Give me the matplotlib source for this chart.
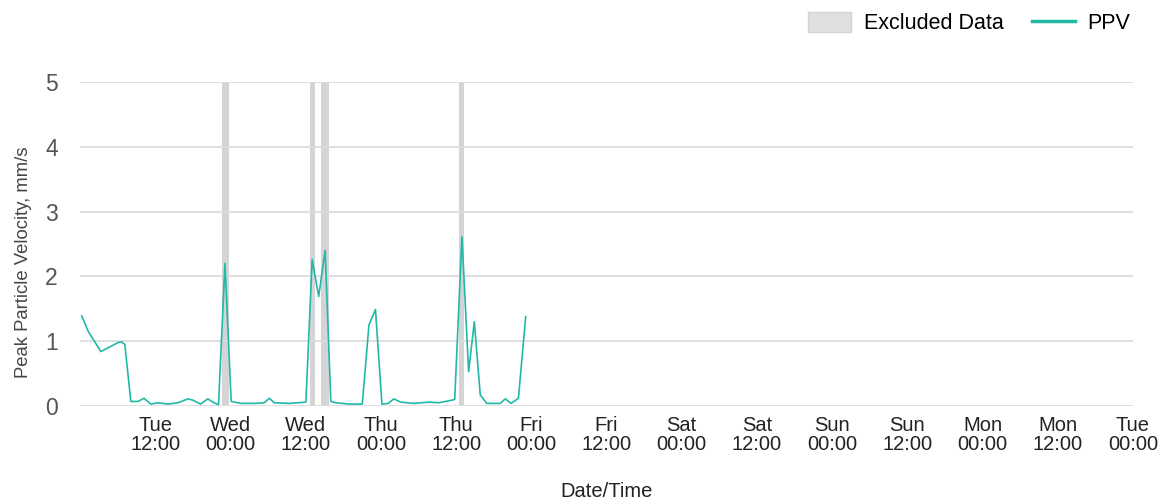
import numpy as np
import pandas as pd
import matplotlib
matplotlib.use("Agg")
import matplotlib.pyplot as plt
import matplotlib.dates as mdates
from matplotlib.patches import Patch
from matplotlib.lines import Line2D

plt.rcParams['font.family'] = ['Liberation Sans', 'DejaVu Sans']

start = pd.Timestamp("2024-01-02 00:00")  # a Tuesday

# PPV readings: hours after start, value in mm/s
ppv_hours = [0.27, 1.32, 3.34, 6.09, 6.63, 7.15, 8.11, 9.27, 10.22, 11.29,
             12.45, 14.04, 15.63, 17.22, 18.01, 19.24, 20.40, 21.19, 22.10, 23.13,
             24.12, 25.71, 27.8, 29.41, 30.21, 31.0, 33.4, 36.04, 37.04, 38.08,
             39.11, 40.02, 40.8, 42.9, 45.04, 46.1, 47.14, 48.17, 49.17, 50.08,
             51.14, 53.26, 55.64, 57.23, 58.82, 59.78, 60.94, 62.0, 62.91, 63.86,
             64.91, 67.04, 67.84, 68.79, 69.95, 71.11]
ppv_values = [1.39, 1.15, 0.84, 0.98, 0.99, 0.95, 0.07, 0.07, 0.12, 0.03,
              0.05, 0.03, 0.05, 0.11, 0.09, 0.03, 0.11, 0.06, 0.02, 2.20,
              0.07, 0.04, 0.04, 0.05, 0.12, 0.05, 0.04, 0.06, 2.26, 1.69,
              2.40, 0.07, 0.05, 0.03, 0.03, 1.25, 1.49, 0.03, 0.04, 0.11,
              0.06, 0.04, 0.06, 0.05, 0.08, 0.10, 2.61, 0.53, 1.30, 0.17,
              0.04, 0.04, 0.11, 0.04, 0.12, 1.38]

# excluded periods (start hour, end hour)
excl_start = [22.6, 36.7, 38.5, 60.5]
excl_end = [23.7, 37.5, 39.7, 61.3]

line_col = "#22b8a8"
times = start + pd.to_timedelta(ppv_hours, unit="h")

fig = plt.figure(figsize=(11.65, 5.04), dpi=100)
ax = fig.add_axes([80 / 1165, 1 - 406 / 504, (1133 - 80) / 1165, (406 - 82) / 504])

for s, e in zip(excl_start, excl_end):
    ax.axvspan(start + pd.Timedelta(hours=s), start + pd.Timedelta(hours=e),
               color="#d4d4d4", lw=0, zorder=1)

ax.plot(times, ppv_values, color=line_col, lw=1.2, zorder=3)

ax.set_xlim(start, start + pd.Timedelta(days=7))
ax.set_ylim(0, 5)
ax.set_yticks([0, 1, 2, 3, 4, 5])

ticks = [start + pd.Timedelta(hours=12 * i) for i in range(1, 15)]
ax.set_xticks(ticks)
ax.xaxis.set_major_formatter(mdates.DateFormatter("%a\n%H:%M"))
for lbl in ax.get_xticklabels():
    lbl.set_linespacing(1.05)

ax.grid(axis="y", color="#dcdcdc", lw=1.3, zorder=0)
for sp in ax.spines.values():
    sp.set_visible(False)
ax.tick_params(axis="x", length=0, pad=7, labelsize=14.5, labelcolor="#222222")
ax.tick_params(axis="y", length=0, pad=16, labelsize=16.5, labelcolor="#555555")

ax.set_ylabel("Peak Particle Velocity, mm/s", fontsize=13.3, color="#444444")
ax.yaxis.set_label_coords(-0.046, 0.444)
ax.set_xlabel("Date/Time", fontsize=14.5, color="#222222", labelpad=20)

handles = [Patch(facecolor="#e0e0e0", edgecolor="#d4d4d4"),
           Line2D([], [], color=line_col, lw=2.5)]
fig.legend(handles, ["Excluded Data", "PPV"], loc="upper right",
           bbox_to_anchor=(0.987, 1.014), ncol=2, frameon=False, fontsize=15.5,
           handlelength=2.0, handleheight=1.0, columnspacing=1.3, handletextpad=0.6)

fig.savefig("out.png", dpi=100)
